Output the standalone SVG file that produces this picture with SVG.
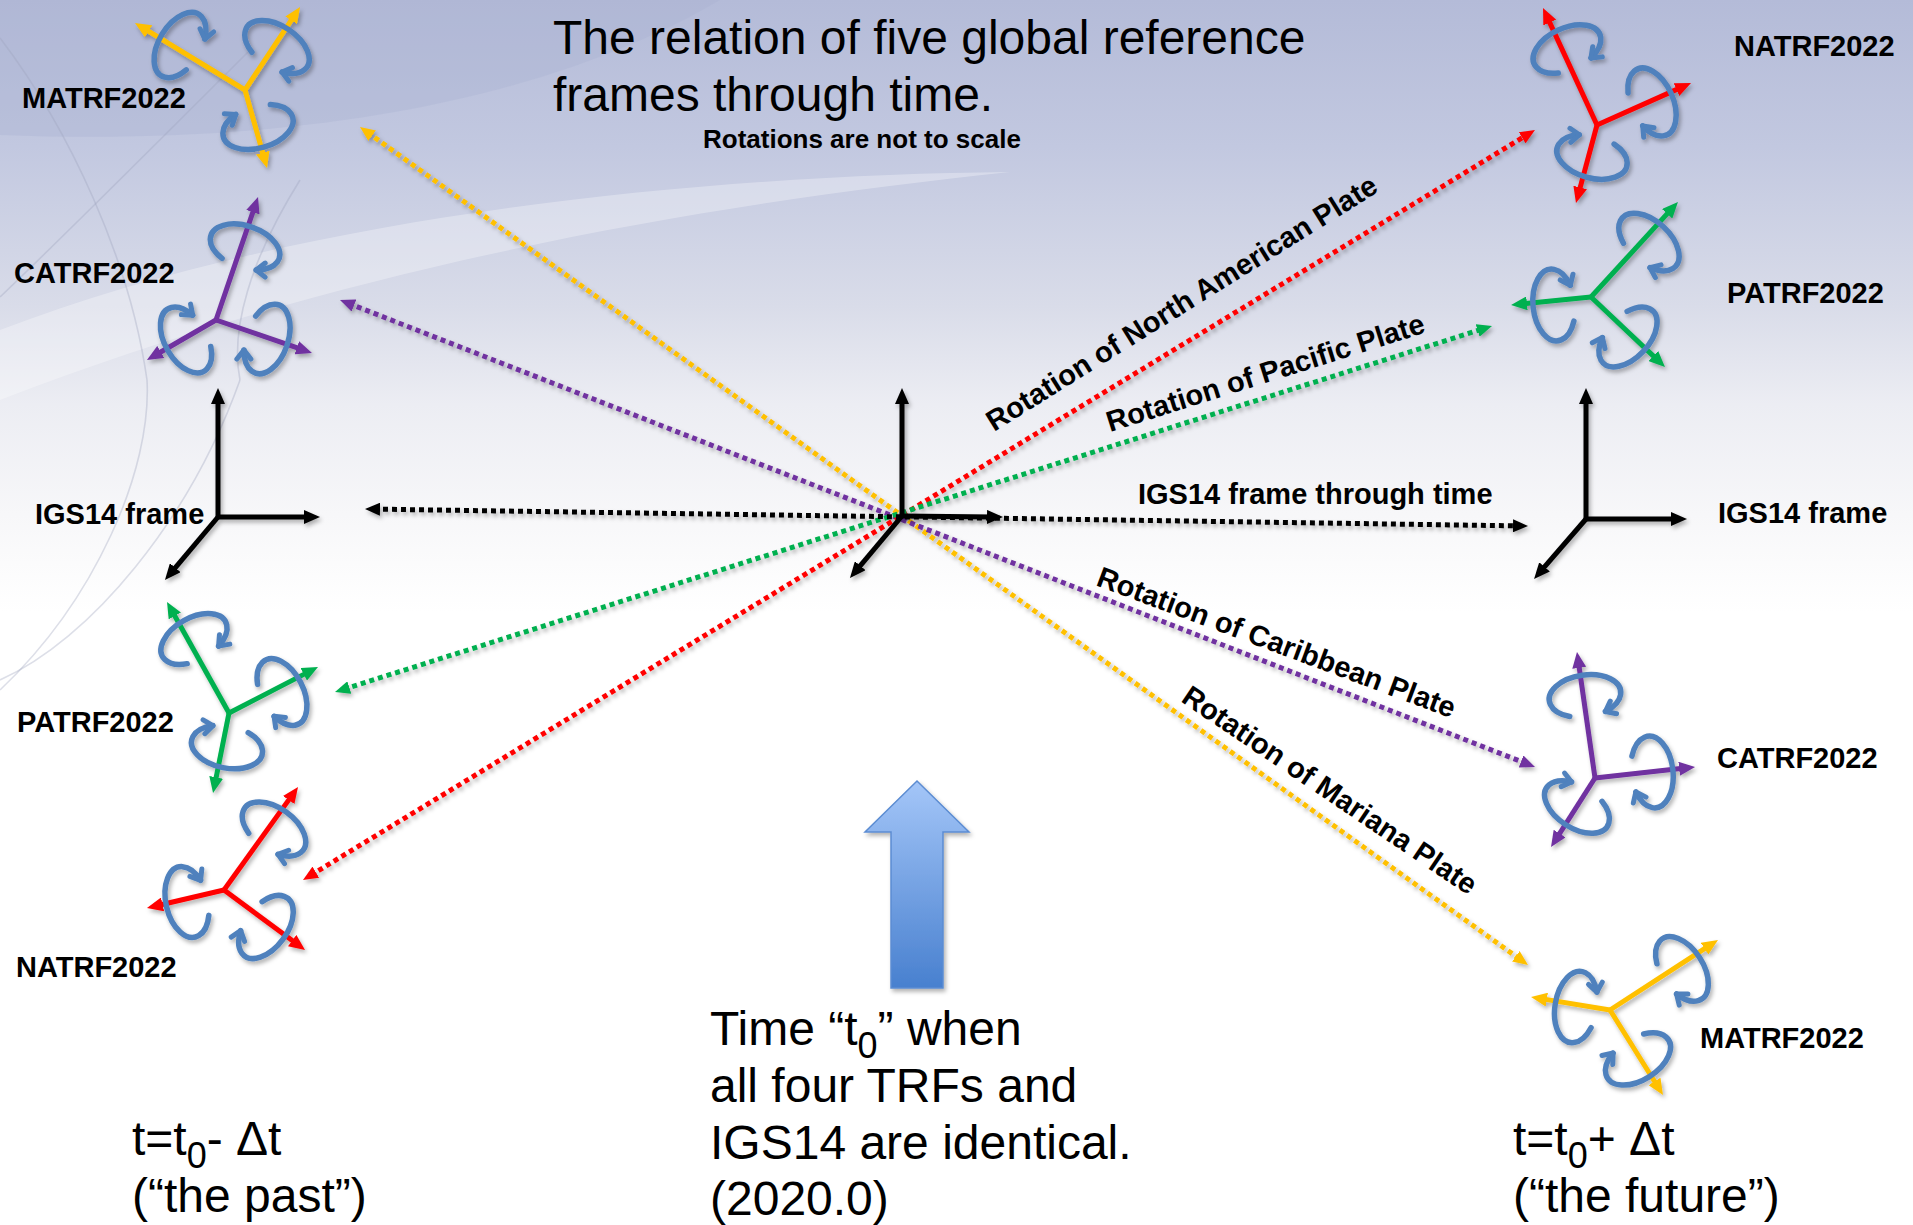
<svg xmlns="http://www.w3.org/2000/svg" width="1913" height="1225" viewBox="0 0 1913 1225">
<style>
.lbl{font-family:"Liberation Sans",Arial,sans-serif;font-weight:bold;font-size:29px;fill:#000}
.big{font-family:"Liberation Sans",Arial,sans-serif;font-size:48px;fill:#000}
.sub{font-size:36px}
.ax{fill:none;stroke-width:5;stroke-linecap:butt}
.ay{stroke:#ffc000;marker-end:url(#hy)}
.ap{stroke:#7030a0;marker-end:url(#hp)}
.ag{stroke:#00b050;marker-end:url(#hg)}
.ar{stroke:#ff0000;marker-end:url(#hr)}
.ak{stroke:#000;marker-end:url(#hk)}
.curl{fill:none;stroke:#4f81bd;stroke-width:5.5;stroke-linecap:round}
.dot{fill:none;stroke-width:5;stroke-dasharray:5 4}
.dk{stroke:#000;marker-start:url(#dk);marker-end:url(#dk)}
.dy{stroke:#ffc000;marker-start:url(#dy);marker-end:url(#dy)}
.dp{stroke:#7030a0;marker-start:url(#dp);marker-end:url(#dp)}
.dr{stroke:#ff0000;marker-start:url(#dr);marker-end:url(#dr)}
.dg{stroke:#00b050;marker-start:url(#dg);marker-end:url(#dg)}
.bgl{fill:none;stroke:#9ea4bc;stroke-width:1.6;opacity:0.35}
</style>
<defs>
<linearGradient id="bg" x1="0" y1="0" x2="0" y2="1225" gradientUnits="userSpaceOnUse">
<stop offset="0" stop-color="#b4bbd8"/>
<stop offset="0.12" stop-color="#c2c8e0"/>
<stop offset="0.25" stop-color="#d9dce9"/>
<stop offset="0.33" stop-color="#ecedf3"/>
<stop offset="0.42" stop-color="#f7f7f9"/>
<stop offset="0.5" stop-color="#ffffff"/>
<stop offset="1" stop-color="#ffffff"/>
</linearGradient>
<linearGradient id="blueArrow" x1="0" y1="781" x2="0" y2="988" gradientUnits="userSpaceOnUse">
<stop offset="0" stop-color="#a4c6f8"/>
<stop offset="1" stop-color="#4880cf"/>
</linearGradient>
<filter id="sh" x="-20%" y="-20%" width="140%" height="140%">
<feDropShadow dx="2" dy="3" stdDeviation="2" flood-color="#000" flood-opacity="0.3"/>
</filter>
<marker id="hy" markerUnits="userSpaceOnUse" viewBox="0 0 16 14" markerWidth="16" markerHeight="14" refX="6" refY="7" orient="auto"><path d="M0,0 L16,7 L0,14 z" fill="#ffc000"/></marker>
<marker id="hp" markerUnits="userSpaceOnUse" viewBox="0 0 16 14" markerWidth="16" markerHeight="14" refX="6" refY="7" orient="auto"><path d="M0,0 L16,7 L0,14 z" fill="#7030a0"/></marker>
<marker id="hg" markerUnits="userSpaceOnUse" viewBox="0 0 16 14" markerWidth="16" markerHeight="14" refX="6" refY="7" orient="auto"><path d="M0,0 L16,7 L0,14 z" fill="#00b050"/></marker>
<marker id="hr" markerUnits="userSpaceOnUse" viewBox="0 0 16 14" markerWidth="16" markerHeight="14" refX="6" refY="7" orient="auto"><path d="M0,0 L16,7 L0,14 z" fill="#ff0000"/></marker>
<marker id="hk" markerUnits="userSpaceOnUse" viewBox="0 0 16 14" markerWidth="16" markerHeight="14" refX="6" refY="7" orient="auto"><path d="M0,0 L16,7 L0,14 z" fill="#000"/></marker>
<marker id="dk" markerUnits="userSpaceOnUse" viewBox="0 0 15 13" markerWidth="15" markerHeight="13" refX="6" refY="6.5" orient="auto-start-reverse"><path d="M0,0 L15,6.5 L0,13 z" fill="#000"/></marker>
<marker id="dy" markerUnits="userSpaceOnUse" viewBox="0 0 15 13" markerWidth="15" markerHeight="13" refX="6" refY="6.5" orient="auto-start-reverse"><path d="M0,0 L15,6.5 L0,13 z" fill="#ffc000"/></marker>
<marker id="dp" markerUnits="userSpaceOnUse" viewBox="0 0 15 13" markerWidth="15" markerHeight="13" refX="6" refY="6.5" orient="auto-start-reverse"><path d="M0,0 L15,6.5 L0,13 z" fill="#7030a0"/></marker>
<marker id="dr" markerUnits="userSpaceOnUse" viewBox="0 0 15 13" markerWidth="15" markerHeight="13" refX="6" refY="6.5" orient="auto-start-reverse"><path d="M0,0 L15,6.5 L0,13 z" fill="#ff0000"/></marker>
<marker id="dg" markerUnits="userSpaceOnUse" viewBox="0 0 15 13" markerWidth="15" markerHeight="13" refX="6" refY="6.5" orient="auto-start-reverse"><path d="M0,0 L15,6.5 L0,13 z" fill="#00b050"/></marker>
<marker id="ch" markerUnits="userSpaceOnUse" viewBox="-12 -12 24 24" markerWidth="24" markerHeight="24" refX="0" refY="0" orient="auto"><path d="M-9,-7 L0,0 L-9,7" fill="none" stroke="#4f81bd" stroke-width="5" stroke-linecap="round" stroke-linejoin="round"/></marker>
<path id="curl" class="curl" d="M-18,18.2 A36,21 0 1 1 18,18.2" marker-end="url(#ch)"/>
</defs>

<g id="background">
<rect x="0" y="0" width="1913" height="1225" fill="url(#bg)"/>
<path d="M0,0 L720,0 C600,70 380,150 0,135 Z" fill="#a9b1d1" opacity="0.35"/>
<path d="M0,330 C300,215 700,175 1010,172 C700,205 350,265 0,400 Z" fill="#ffffff" opacity="0.3"/>
<path class="bgl" d="M0,38 C70,130 130,260 147,380 C152,470 95,600 0,690"/>
<path class="bgl" d="M0,297 C60,240 130,170 250,50"/>
<path class="bgl" d="M240,380 C190,520 90,640 0,680"/>
<path class="bgl" d="M300,180 C250,260 230,330 240,380"/>
</g>

<g id="connectors" filter="url(#sh)">
<line class="dot dy" x1="367.3" y1="132.2" x2="1520.7" y2="959.8"/>
<line class="dot dp" x1="348.4" y1="303.3" x2="1526.6" y2="763.7"/>
<line class="dot dr" x1="310.7" y1="875.3" x2="1527.3" y2="134.7"/>
<line class="dot dg" x1="343.6" y1="689.3" x2="1483.4" y2="328.7"/>
<line class="dot dk" x1="374" y1="509.1" x2="1519" y2="525.9"/>
</g>

<g id="connector-labels">
<text class="lbl" transform="translate(994,432) rotate(-32)">Rotation of North American Plate</text>
<text class="lbl" transform="translate(1110,432) rotate(-17.5)">Rotation of Pacific Plate</text>
<text class="lbl" x="1138" y="504">IGS14 frame through time</text>
<text class="lbl" transform="translate(1095,585) rotate(20.5)">Rotation of Caribbean Plate</text>
<text class="lbl" transform="translate(1180,701) rotate(34)">Rotation of Mariana Plate</text>
</g>

<g id="center-igs14" filter="url(#sh)">
<line class="ax ak" x1="902" y1="516" x2="902" y2="398"/>
<line class="ax ak" x1="902" y1="516" x2="993" y2="517"/>
<line class="ax ak" x1="902" y1="516" x2="856.4" y2="570.3"/>
</g>

<g id="left-matrf">
<g filter="url(#sh)">
<line class="ax ay" x1="245" y1="90" x2="143.5" y2="28.2"/>
<line class="ax ay" x1="245" y1="90" x2="294.5" y2="15.3"/>
<line class="ax ay" x1="245" y1="90" x2="264.3" y2="158.4"/>
<use href="#curl" transform="translate(180,45) rotate(-58.7)"/>
<use href="#curl" transform="translate(277,47) rotate(33.5)"/>
<use href="#curl" transform="translate(258,127) rotate(164.2)"/>
</g>
<text class="lbl" x="22" y="108">MATRF2022</text>
</g>

<g id="left-catrf">
<g filter="url(#sh)">
<line class="ax ap" x1="216" y1="320" x2="254.8" y2="206.5"/>
<line class="ax ap" x1="216" y1="320" x2="155.6" y2="355"/>
<line class="ax ap" x1="216" y1="320" x2="302.5" y2="349.7"/>
<use href="#curl" transform="translate(245,247) rotate(18.9)"/>
<use href="#curl" transform="translate(186,340) rotate(239.9)"/>
<use href="#curl" transform="translate(267,339) rotate(109)"/>
</g>
<text class="lbl" x="14" y="283">CATRF2022</text>
</g>

<g id="left-igs14">
<g filter="url(#sh)">
<line class="ax ak" x1="218" y1="517" x2="218" y2="398"/>
<line class="ax ak" x1="218" y1="517" x2="310" y2="517"/>
<line class="ax ak" x1="218" y1="517" x2="171.4" y2="572.3"/>
</g>
<text class="lbl" x="35" y="524">IGS14 frame</text>
</g>

<g id="left-patrf">
<g filter="url(#sh)">
<line class="ax ag" x1="229" y1="713" x2="171.9" y2="610.7"/>
<line class="ax ag" x1="229" y1="713" x2="309.1" y2="671.6"/>
<line class="ax ag" x1="229" y1="713" x2="215" y2="783.2"/>
<use href="#curl" transform="translate(194,639) rotate(-29.2)"/>
<use href="#curl" transform="translate(282,692) rotate(62.7)"/>
<use href="#curl" transform="translate(227,747) rotate(191.3)"/>
</g>
<text class="lbl" x="17" y="732">PATRF2022</text>
</g>

<g id="left-natrf">
<g filter="url(#sh)">
<line class="ax ar" x1="224" y1="890" x2="292.2" y2="795.1"/>
<line class="ax ar" x1="224" y1="890" x2="156.7" y2="905.7"/>
<line class="ax ar" x1="224" y1="890" x2="297" y2="944.1"/>
<use href="#curl" transform="translate(274,829) rotate(35.7)"/>
<use href="#curl" transform="translate(187,902) rotate(256.8)"/>
<use href="#curl" transform="translate(266,927) rotate(126.5)"/>
</g>
<text class="lbl" x="16" y="977">NATRF2022</text>
</g>

<g id="right-natrf">
<g filter="url(#sh)">
<line class="ax ar" x1="1597" y1="125" x2="1547.2" y2="17.1"/>
<line class="ax ar" x1="1597" y1="125" x2="1681.9" y2="87.1"/>
<line class="ax ar" x1="1597" y1="125" x2="1578.6" y2="193.3"/>
<use href="#curl" transform="translate(1567,49) rotate(-24.8)"/>
<use href="#curl" transform="translate(1652,102) rotate(65.9)"/>
<use href="#curl" transform="translate(1592,157) rotate(195.1)"/>
</g>
<text class="lbl" x="1734" y="56">NATRF2022</text>
</g>

<g id="right-patrf">
<g filter="url(#sh)">
<line class="ax ag" x1="1591" y1="297" x2="1671.2" y2="209.4"/>
<line class="ax ag" x1="1591" y1="297" x2="1521" y2="304"/>
<line class="ax ag" x1="1591" y1="297" x2="1657.7" y2="360.1"/>
<use href="#curl" transform="translate(1649,242) rotate(42.5)"/>
<use href="#curl" transform="translate(1554,305) rotate(264.3)"/>
<use href="#curl" transform="translate(1628,337) rotate(133.4)"/>
</g>
<text class="lbl" x="1727" y="303">PATRF2022</text>
</g>

<g id="right-igs14">
<g filter="url(#sh)">
<line class="ax ak" x1="1586" y1="519" x2="1586" y2="398"/>
<line class="ax ak" x1="1586" y1="519" x2="1677" y2="519"/>
<line class="ax ak" x1="1586" y1="519" x2="1540.6" y2="571.4"/>
</g>
<text class="lbl" x="1718" y="523">IGS14 frame</text>
</g>

<g id="right-catrf">
<g filter="url(#sh)">
<line class="ax ap" x1="1595" y1="778" x2="1578.4" y2="661.9"/>
<line class="ax ap" x1="1595" y1="778" x2="1685.1" y2="768.1"/>
<line class="ax ap" x1="1595" y1="778" x2="1556.4" y2="838.6"/>
<use href="#curl" transform="translate(1585,696) rotate(-8.1)"/>
<use href="#curl" transform="translate(1652,772) rotate(83.7)"/>
<use href="#curl" transform="translate(1577,807) rotate(212.5)"/>
</g>
<text class="lbl" x="1717" y="768">CATRF2022</text>
</g>

<g id="right-matrf">
<g filter="url(#sh)">
<line class="ax ay" x1="1610" y1="1010" x2="1709.6" y2="945.4"/>
<line class="ax ay" x1="1610" y1="1010" x2="1540.9" y2="998.6"/>
<line class="ax ay" x1="1610" y1="1010" x2="1657.7" y2="1086.5"/>
<use href="#curl" transform="translate(1682,969) rotate(57)"/>
<use href="#curl" transform="translate(1576,1007) rotate(-80.7)"/>
<use href="#curl" transform="translate(1638,1059) rotate(148.1)"/>
</g>
<text class="lbl" x="1700" y="1048">MATRF2022</text>
</g>

<g id="title">
<text class="big"><tspan x="553" y="54">The relation of five global reference</tspan><tspan x="553" y="111">frames through time.</tspan></text>
<text class="lbl" x="703" y="148" style="font-size:26px">Rotations are not to scale</text>
</g>

<g id="time-arrow">
<polygon points="917,781 969,832 943,832 943,988 891,988 891,832 865,832" fill="url(#blueArrow)" stroke="#5b8cd2" stroke-width="1.5" filter="url(#sh)"/>
</g>

<g id="past-text">
<text class="big"><tspan x="132" y="1155">t=t</tspan><tspan class="sub" dy="13">0</tspan><tspan dy="-13">- Δt</tspan></text>
<text class="big" x="132" y="1212">(“the past”)</text>
</g>

<g id="t0-text">
<text class="big"><tspan x="710" y="1045">Time “t</tspan><tspan class="sub" dy="13">0</tspan><tspan dy="-13">” when</tspan></text>
<text class="big"><tspan x="710" y="1102">all four TRFs and</tspan><tspan x="710" y="1159">IGS14 are identical.</tspan><tspan x="710" y="1215">(2020.0)</tspan></text>
</g>

<g id="future-text">
<text class="big"><tspan x="1513" y="1155">t=t</tspan><tspan class="sub" dy="13">0</tspan><tspan dy="-13">+ Δt</tspan></text>
<text class="big" x="1513" y="1212">(“the future”)</text>
</g>
</svg>
